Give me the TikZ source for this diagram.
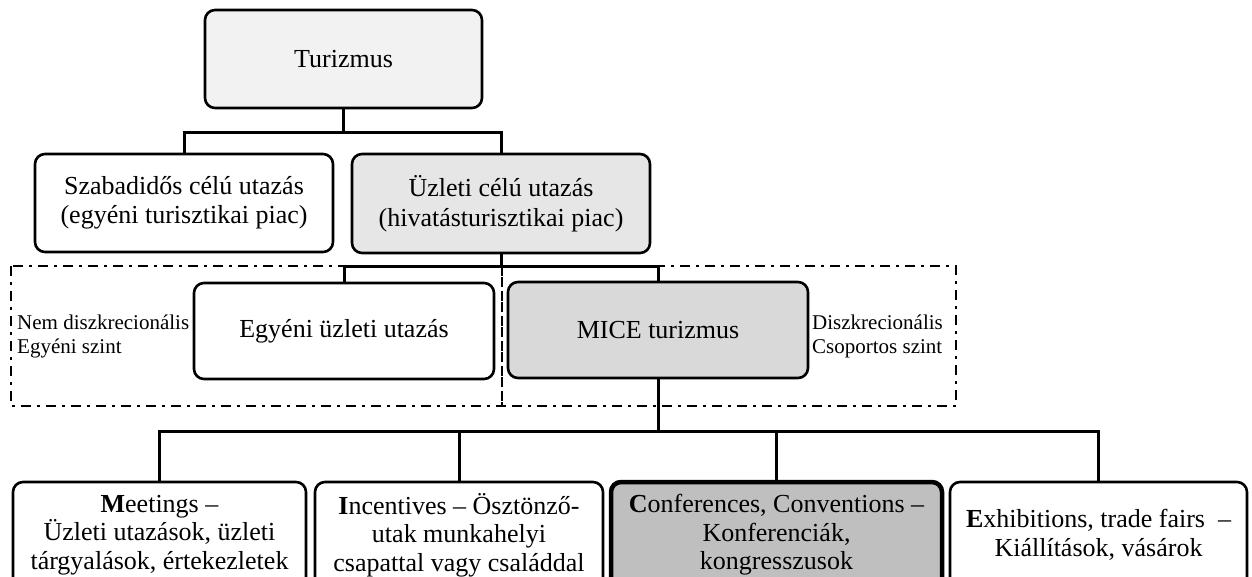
\documentclass[tikz,border=0pt]{standalone}
\usepackage{fontspec}
\setmainfont{Liberation Serif}
\definecolor{fillA}{HTML}{F2F2F2}
\definecolor{fillB}{HTML}{E6E6E6}
\definecolor{fillC}{HTML}{D9D9D9}
\definecolor{fillD}{HTML}{BFBFBF}
\tikzset{
  box/.style={draw=black, line width=2.6pt, rounded corners=10pt, inner sep=0pt,
    align=center, font=\fontsize{26}{29.5}\selectfont},
  lowbox/.style={box, minimum height=106pt, font=\fontsize{26}{28.5}\selectfont},
  link/.style={line width=3pt},
  zone/.style={line width=2.6pt, dash pattern=on 10pt off 6pt on 3pt off 6pt},
  sidelabel/.style={inner sep=0pt, align=left, font=\fontsize{21}{24}\selectfont}
}
\begin{document}
\begin{tikzpicture}[x=1pt, y=-1pt]
\useasboundingbox (0,0) rectangle (1252,576);
\clip (0,0) rectangle (1252,576);

% dash-dotted zones behind the third level
\draw[zone] (11,266) rectangle (502,406);
\draw[zone] (502,266) rectangle (956,406);

% boxes
\node[box, fill=fillA, minimum width=277pt, minimum height=98pt] (tur) at (343.5,59) {Turizmus};
\node[box, fill=white, minimum width=298pt, minimum height=98pt] (szab) at (184,203) {Szabadidős célú utazás\\(egyéni turisztikai piac)};
\node[box, fill=fillB, minimum width=298pt, minimum height=99pt] (uzl) at (501,203.5) {Üzleti célú utazás\\(hivatásturisztikai piac)};
\node[box, fill=white, minimum width=300pt, minimum height=96pt] (egy) at (344,331) {Egyéni üzleti utazás};
\node[box, fill=fillC, minimum width=300pt, minimum height=96pt] (mice) at (658,330) {MICE turizmus};

\node[lowbox, fill=white, minimum width=293pt] (meet) at (159.5,535) {\textbf{M}eetings –\\Üzleti utazások, üzleti\\tárgyalások, értekezletek};
\node[lowbox, fill=white, minimum width=288pt] (inc) at (459,535) {\textbf{I}ncentives – Ösztönző-\\utak munkahelyi\\csapattal vagy családdal};
\node[lowbox, fill=fillD, line width=4.5pt, minimum width=331pt] (conf) at (776.5,535) {\textbf{C}onferences, Conventions –\\Konferenciák,\\kongresszusok};
\node[lowbox, fill=white, minimum width=297pt] (exh) at (1098.5,535) {\textbf{E}xhibitions, trade fairs~ –\\Kiállítások, vásárok};

% side labels of the zones
\node[sidelabel, anchor=west] (nd) at (17,336) {Nem diszkrecionális\\Egyéni szint};
\node[sidelabel, anchor=west] (dz) at (812,336) {Diszkrecionális\\Csoportos szint};

% rails of the tree
\coordinate (r1) at (0,132);
\coordinate (r2) at (0,266);
\coordinate (r3) at (0,431);

\draw[link] (tur.south) -- (tur.south |- r1);
\draw[link] (szab.north) |- (tur.south |- r1) -| (uzl.north);

\draw[link] (uzl.south) -- (uzl.south |- r2);
\draw[link] (egy.north) |- (uzl.south |- r2) -| (mice.north);

\draw[link] (mice.south) -- (mice.south |- r3);
\draw[link] (meet.north) |- (mice.south |- r3) -| (exh.north);
\draw[link] (inc.north) -- (inc.north |- r3);
\draw[link] (conf.north) -- (conf.north |- r3);
\end{tikzpicture}
\end{document}
